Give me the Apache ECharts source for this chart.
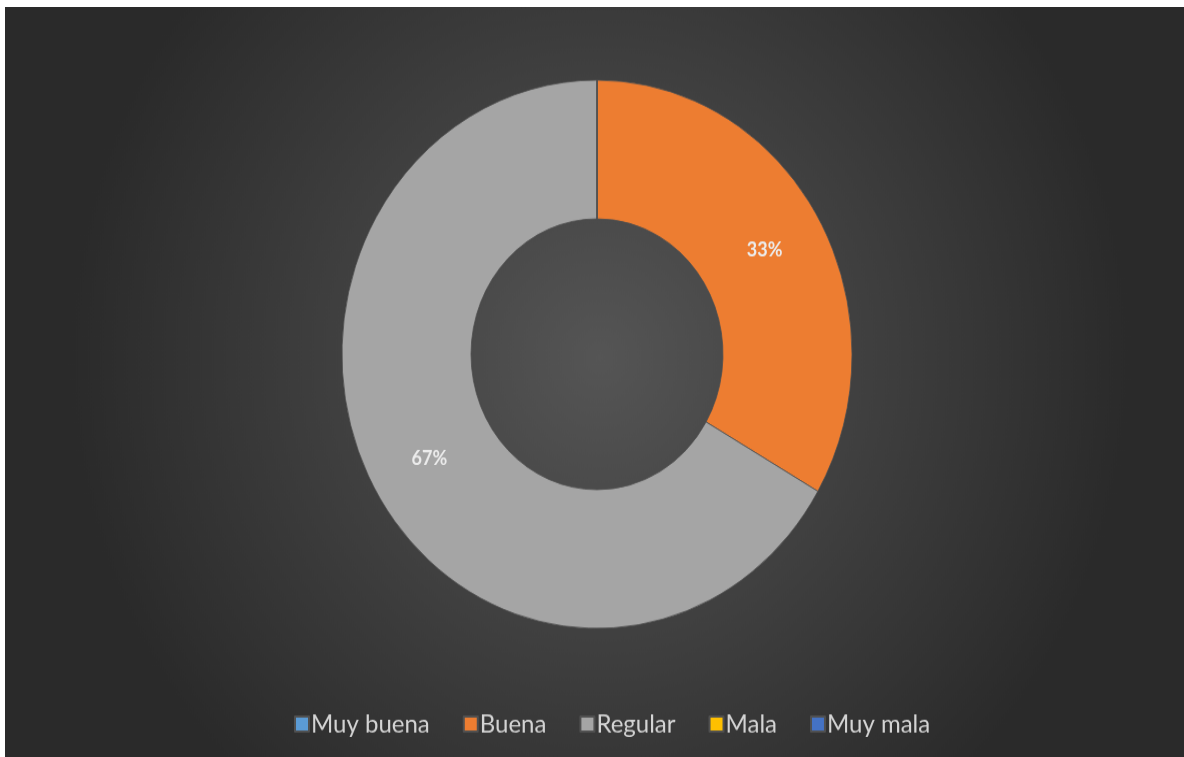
<!DOCTYPE html>
<html>
<head>
<meta charset="utf-8">
<script src="https://cdn.jsdelivr.net/npm/echarts@6/dist/echarts.min.js"></script>
<style>
  html, body {margin: 0; padding: 0; background: #fff; overflow: hidden;}
  /* the source picture is stretched a little vertically, so the whole chart is scaled in y */
  #chart {position: absolute; left: 5px; top: 7px; width: 1190px; height: 710px;
          transform: scaleY(1.075); transform-origin: 0 0;}
</style>
</head>
<body>
<div id="chart"></div>
<script>
const categories = ['Muy buena', 'Buena', 'Regular', 'Mala', 'Muy mala'];
const values = [0, 1, 2, 0, 0];
const colors = ['#5B9BD5', '#ED7D31', '#A5A5A5', '#FFC000', '#4472C4'];

const myChart = echarts.init(document.getElementById('chart'));
myChart.setOption({
  backgroundColor: {
    type: 'radial', x: 0.5, y: 0.46, r: 0.75,
    colorStops: [
      {offset: 0, color: '#555555'},
      {offset: 1, color: '#2a2a2a'}
    ]
  },
  color: colors,
  legend: {
    top: 650,
    left: 284,
    itemWidth: 14,
    itemHeight: 14,
    itemGap: 33,
    icon: 'rect',
    textStyle: {color: '#d4d4d4', fontSize: 24, fontFamily: 'Lato', padding: [0, 0, 0, -3]},
    data: categories
  },
  series: [{
    type: 'pie',
    center: [592, 323],
    radius: [126, 255],
    startAngle: 90,
    clockwise: true,
    avoidLabelOverlap: false,
    itemStyle: {borderColor: '#505050', borderWidth: 0.8},
    label: {
      show: true,
      position: 'inside',
      color: '#ececec',
      fontSize: 18,
      fontWeight: 'bold',
      fontFamily: 'Lato',
      formatter: p => p.value ? Math.round(p.percent) + '%' : ''
    },
    labelLine: {show: false},
    emphasis: {disabled: true},
    data: categories.map((name, i) => ({name, value: values[i]}))
  }]
});
</script>
</body>
</html>
